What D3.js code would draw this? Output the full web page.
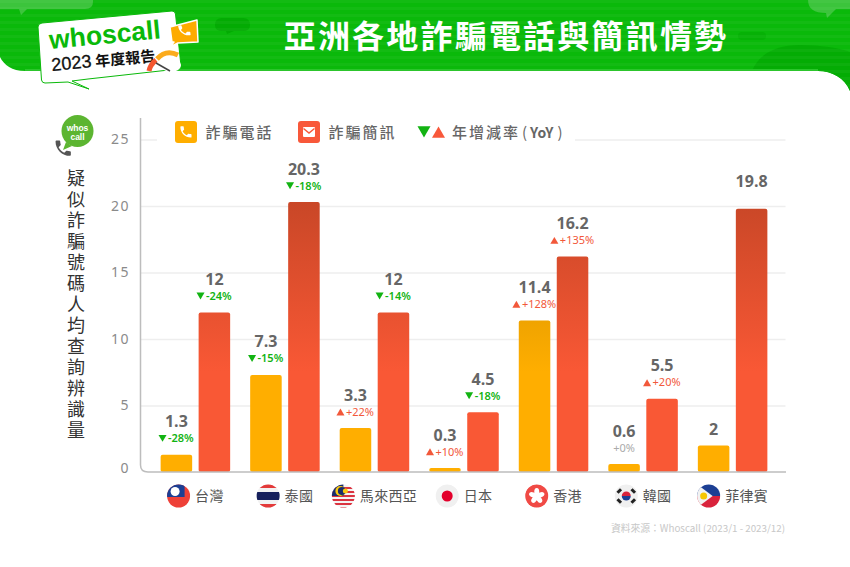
<!DOCTYPE html>
<html>
<head>
<meta charset="utf-8">
<script src="https://cdn.jsdelivr.net/npm/d3@7"></script>
<style>
html, body { margin: 0; padding: 0; background: #fff; }
svg { display: block; }
text { font-family: "Noto Sans", "Noto Sans CJK TC", sans-serif; }
.cjk { font-family: "Noto Sans CJK TC", "Noto Sans", sans-serif; }
</style>
</head>
<body>
<svg id="chart" width="850" height="567"></svg>
<script>
// chart data
var categories = ["台灣", "泰國", "馬來西亞", "日本", "香港", "韓國", "菲律賓"];
var flagKeys = ["tw", "th", "my", "jp", "hk", "kr", "ph"];
var seriesKeys = ["phone", "sms"];
var phoneValues = [1.3, 7.3, 3.3, 0.3, 11.4, 0.6, 2];
var smsValues = [12, 20.3, 12, 4.5, 16.2, 5.5, 19.8];
var phoneYoY = [-28, -15, 22, 10, 128, 0, null];
var smsYoY = [-24, -18, -14, -18, 135, 20, null];
var yTicks = [0, 5, 10, 15, 20, 25];
var axisTitle = "疑似詐騙號碼人均查詢辨識量";

var phonePath = "M6.62 10.79c1.44 2.83 3.76 5.14 6.59 6.59l2.2-2.2c.27-.27.67-.36 1.02-.24 1.12.37 2.33.57 3.57.57.55 0 1 .45 1 1V20c0 .55-.45 1-1 1-9.39 0-17-7.61-17-17 0-.55.45-1 1-1h3.5c.55 0 1 .45 1 1 0 1.25.2 2.45.57 3.57.11.35.03.74-.25 1.02l-2.2 2.2z";

var svg = d3.select("#chart");
var defs = svg.append("defs");

var x0 = d3.scaleBand()
	.domain(categories)
	.range([150.6, 777.4])
	.paddingInner(0.2235)
	.paddingOuter(0.112);

var x1 = d3.scaleBand()
	.domain(seriesKeys)
	.range([0, x0.bandwidth()])
	.paddingInner(0.17);

var y = d3.scaleLinear()
	.domain([0, 25])
	.range([472, 139.5]);

var green = "#0ab90a", orange = "#ffae00", red = "#f95835";

// header
var stripes = defs.append("pattern")
	.attr("id", "stripes")
	.attr("patternUnits", "userSpaceOnUse")
	.attr("width", 10)
	.attr("height", 7);
stripes.append("rect").attr("width", 10).attr("height", 3).attr("fill", "#fff").attr("opacity", 0.035);

var headerShape = "M0,0H850V91C845,78 832,71 818,71H25C12,71 4,65 0,57Z";
var header = svg.append("g");
header.append("path").attr("d", headerShape).attr("fill", green);
defs.append("clipPath").attr("id", "headerClip").append("path").attr("d", headerShape);
var headerInner = header.append("g").attr("clip-path", "url(#headerClip)");
headerInner.append("path").attr("d", "M752,71C758,55 775,45 800,45C820,45 840,48 850,52V95H752Z").attr("fill", "#04ac04");
headerInner.append("path").attr("d", "M0,-2H93V2Q93,9 85,9H27L21,15L19,9H0Z").attr("fill", "#3cc43c");
headerInner.append("path").attr("d", "M808,-2H850V9H836L827,18L826,13Q808,13 808,0Z").attr("fill", "#3cc43c");
headerInner.append("path").attr("d", "M222,18H243Q250,18 250,25Q250,31 243,31H234L227,34L226,31H222Q215,31 215,25Q215,18 222,18Z").attr("fill", "#03ab03");
headerInner.append("rect").attr("x", 738).attr("y", 32).attr("width", 28).attr("height", 8).attr("rx", 4).attr("fill", "#06b106");
headerInner.append("rect").attr("width", 850).attr("height", 100).attr("fill", "url(#stripes)");
header.append("rect").attr("x", 25).attr("y", 69).attr("width", 793).attr("height", 2).attr("fill", "#2cc52c");

svg.append("text")
	.attr("class", "cjk")
	.attr("x", 506)
	.attr("y", 48)
	.attr("text-anchor", "middle")
	.attr("font-size", 32)
	.attr("font-weight", 700)
	.attr("letter-spacing", 2.2)
	.attr("fill", "#fff")
	.text("亞洲各地詐騙電話與簡訊情勢");

// report badge
var badge = svg.append("g");
badge.append("path")
	.attr("d", "M42,23L172,11Q175,11 175.500,14L181,66Q181,69 178,69L88,79L72,81L89,89L68,82L45,83Q42,83 41.500,80L38,27Q38,23.500 42,23Z")
	.attr("fill", "#fff")
	.attr("stroke", green)
	.attr("stroke-width", 1);
badge.append("text")
	.attr("transform", "translate(50,49) rotate(-5.5)")
	.attr("font-size", 26.5)
	.attr("font-weight", 700)
	.attr("fill", green)
	.style("font-family", "'Liberation Sans', sans-serif")
	.text("whoscall");
var badgeText = badge.append("text")
	.attr("transform", "translate(52,71) rotate(-5.5)")
	.attr("fill", "#111");
badgeText.append("tspan")
	.attr("font-size", 18)
	.attr("font-weight", 400)
	.style("font-family", "'Liberation Sans', sans-serif")
	.style("stroke", "#111")
	.style("stroke-width", 0.3)
	.text("2023");
badgeText.append("tspan")
	.attr("class", "cjk")
	.attr("dx", 4)
	.attr("font-size", 15)
	.attr("font-weight", 700)
	.style("font-family", "'Noto Sans CJK TC', sans-serif")
	.text("年度報告");
badge.append("path")
	.attr("d", "M170,27L197,20L198,42L178,43L170,47L174,42L172,42Z")
	.attr("fill", "#fdab00")
	.attr("stroke", "#fff")
	.attr("stroke-width", 1.5)
	.attr("stroke-linejoin", "round");
badge.append("path")
	.attr("d", phonePath)
	.attr("transform", "translate(176,24) scale(0.62) rotate(-8)")
	.attr("fill", "#fff");
badge.append("path").attr("d", "M157,59Q166,49 178,55").attr("fill", "none").attr("stroke", "#fbab1c").attr("stroke-width", 5);
badge.append("path").attr("d", "M149,71Q150,65 156,60").attr("fill", "none").attr("stroke", "#f4562f").attr("stroke-width", 5);
badge.append("ellipse").attr("cx", 171).attr("cy", 65).attr("rx", 10).attr("ry", 7).attr("fill", "#fff");
badge.append("line").attr("x1", 156).attr("y1", 63).attr("x2", 170).attr("y2", 71).attr("stroke", "#444").attr("stroke-width", 1.5);

// darker tone towards the top of the plot
var topY = y(20.3), fadeY = y(7.5);
defs.append("linearGradient")
	.attr("id", "gradSms")
	.attr("gradientUnits", "userSpaceOnUse")
	.attr("x1", 0).attr("x2", 0).attr("y1", topY).attr("y2", fadeY)
	.selectAll("stop")
	.data([{o: 0, c: "#c94727"}, {o: 1, c: red}])
	.enter().append("stop")
	.attr("offset", function(d) { return d.o; })
	.attr("stop-color", function(d) { return d.c; });
defs.append("linearGradient")
	.attr("id", "gradPhone")
	.attr("gradientUnits", "userSpaceOnUse")
	.attr("x1", 0).attr("x2", 0).attr("y1", topY).attr("y2", fadeY)
	.selectAll("stop")
	.data([{o: 0, c: "#cc8b00"}, {o: 1, c: orange}])
	.enter().append("stop")
	.attr("offset", function(d) { return d.o; })
	.attr("stop-color", function(d) { return d.c; });

// grid and y axis
var plot = svg.append("g");
var gridAxis = plot.append("g")
	.attr("transform", "translate(140.5,0)")
	.call(d3.axisRight(y).tickValues(yTicks.slice(1)).tickSize(645).tickFormat(""));
gridAxis.select(".domain").remove();
gridAxis.selectAll("line").attr("stroke", "#eeeeee").attr("stroke-width", 1.3);

var tickAxis = plot.append("g")
	.attr("transform", "translate(130,0)")
	.call(d3.axisLeft(y).tickValues(yTicks).tickSize(0).tickPadding(0));
tickAxis.select(".domain").remove();
tickAxis.selectAll("text")
	.attr("font-size", 14)
	.attr("letter-spacing", 1.5)
	.attr("fill", "#8a8a8a")
	.attr("dy", function(d) { return d === 0 ? "-0.0em" : "0.32em"; });

// white strip behind the legend
plot.append("rect").attr("x", 157).attr("y", 118).attr("width", 418).attr("height", 28).attr("fill", "#fff");

// bars
var groups = plot.selectAll(".group")
	.data(categories)
	.enter().append("g")
	.attr("class", "group")
	.attr("transform", function(d) { return "translate(" + x0(d) + ",0)"; });

var bars = groups.selectAll("g")
	.data(function(d, i) {
		return [
			{key: "phone", value: phoneValues[i], yoy: phoneYoY[i]},
			{key: "sms", value: smsValues[i], yoy: smsYoY[i]}
		];
	})
	.enter().append("g");

bars.append("rect")
	.attr("x", function(d) { return x1(d.key); })
	.attr("y", function(d) { return y(d.value); })
	.attr("width", x1.bandwidth())
	.attr("height", function(d) { return y(0) - y(d.value); })
	.attr("rx", 2)
	.attr("fill", function(d) { return d.key === "phone" ? "url(#gradPhone)" : "url(#gradSms)"; });

bars.append("text")
	.attr("x", function(d) { return x1(d.key) + x1.bandwidth() / 2; })
	.attr("y", function(d) { return y(d.value) - (d.yoy === null ? (d.key === "phone" ? 10 : 22) : 27.5); })
	.attr("text-anchor", "middle")
	.attr("font-size", 16)
	.attr("font-weight", 700)
	.attr("fill", "#666")
	.style("font-family", "'Open Sans', sans-serif")
	.text(function(d) { return d.value; });

// yoy label with its little triangle, centred over the bar
bars.filter(function(d) { return d.yoy !== null; }).each(function(d) {
	var g = d3.select(this);
	var cx = x1(d.key) + x1.bandwidth() / 2;
	var base = y(d.value) - 12.5;
	var col = d.yoy > 0 ? "#f2583a" : d.yoy < 0 ? "#12b312" : "#aaaaaa";
	var label = (d.yoy >= 0 ? "+" : "") + d.yoy + "%";
	var t = g.append("text")
		.attr("y", base)
		.attr("font-size", 11)
		.attr("fill", col)
		.attr("font-weight", d.yoy < 0 ? 600 : 400)
		.text(label);
	var tw = t.node().getComputedTextLength();
	var hasMark = d.yoy !== 0;
	var total = tw + (hasMark ? 9 : 0);
	t.attr("x", cx - total / 2 + (hasMark ? 9 : 0));
	if (hasMark) {
		g.append("path")
			.attr("d", d3.symbol(d3.symbolTriangle, 28)())
			.attr("transform", "translate(" + (cx - total / 2 + 3.5) + "," + (d.yoy < 0 ? base - 5 : base - 2.5) + ")" + (d.yoy < 0 ? " rotate(180)" : ""))
			.attr("fill", col);
	}
});

// axis lines
plot.append("path")
	.attr("d", "M140.5,118V465Q140.500,472 148,472H786")
	.attr("fill", "none")
	.attr("stroke", "#bdbdbd")
	.attr("stroke-width", 1.5);

// legend
var legend = svg.append("g");
function legendItem(x, col, text, drawIcon) {
	legend.append("rect").attr("x", x).attr("y", 121).attr("width", 22).attr("height", 22).attr("rx", 3).attr("fill", col);
	drawIcon(x);
	legend.append("text")
		.attr("class", "cjk")
		.attr("x", x + 30.500)
		.attr("y", 137.500)
		.attr("font-size", 15)
		.attr("font-weight", 500)
		.attr("letter-spacing", 2)
		.attr("fill", "#666")
		.text(text);
}
legendItem(175, orange, "詐騙電話", function(x) {
	legend.append("path")
		.attr("d", phonePath)
		.attr("transform", "translate(" + (x + 3.500) + ",124.500) scale(0.62)")
		.attr("fill", "#fff");
});
legendItem(298, "#f8583a", "詐騙簡訊", function(x) {
	legend.append("rect").attr("x", x + 5).attr("y", 127).attr("width", 12).attr("height", 10).attr("rx", 1).attr("fill", "#fff");
	legend.append("path").attr("d", "M" + (x + 5.500) + ",128.500L" + (x + 11) + ",133L" + (x + 16.500) + ",128.500").attr("fill", "none").attr("stroke", "#f8583a").attr("stroke-width", 1.5);
});
legend.append("path")
	.attr("d", d3.symbol(d3.symbolTriangle, 73)())
	.attr("transform", "translate(424,130) rotate(180)")
	.attr("fill", "#12b312");
legend.append("path")
	.attr("d", d3.symbol(d3.symbolTriangle, 73)())
	.attr("transform", "translate(438.500,134)")
	.attr("fill", "#f8583a");
var yoyLegend = legend.append("text")
	.attr("class", "cjk")
	.attr("x", 452)
	.attr("y", 137.500)
	.attr("font-size", 15)
	.attr("font-weight", 500)
	.attr("fill", "#666");
yoyLegend.append("tspan").attr("letter-spacing", 2).text("年增減率");
yoyLegend.append("tspan").attr("dx", 2).attr("font-weight", 400).text("(");
yoyLegend.append("tspan").attr("dx", 3).attr("font-size", 14).attr("font-weight", 700).text("YoY");
yoyLegend.append("tspan").attr("dx", 4).attr("font-weight", 400).text(")");

// y axis title with logo
var logo = svg.append("g");
logo.append("circle").attr("cx", 77.500).attr("cy", 131).attr("r", 16).attr("fill", "#5cb531");
logo.append("path").attr("d", "M66,142L63,150L72,146Z").attr("fill", "#5cb531");
var logoText = logo.append("text")
	.attr("text-anchor", "middle")
	.attr("font-size", 8.5)
	.attr("font-weight", 700)
	.attr("fill", "#fff")
	.style("font-family", "'Liberation Sans', sans-serif");
logoText.selectAll("tspan")
	.data(["whos", "call"])
	.enter().append("tspan")
	.attr("x", 77.500)
	.attr("y", function(d, i) { return 131 + i * 8.5; })
	.text(function(d) { return d; });
logo.append("path")
	.attr("d", phonePath)
	.attr("transform", "translate(53,138) scale(0.85)")
	.attr("fill", "#555");

// one vertical run of text, spaced to the same pitch as the reference
svg.append("text")
	.attr("class", "cjk")
	.attr("x", 76)
	.attr("y", 169)
	.attr("font-size", 18)
	.attr("letter-spacing", 3)
	.attr("fill", "#333")
	.style("writing-mode", "vertical-rl")
	.text(axisTitle);

// flags
var flagDrawers = {
	tw: function(g) {
		g.append("rect").attr("x", -12).attr("y", -12).attr("width", 24).attr("height", 24).attr("fill", "#ee4138");
		g.append("rect").attr("x", -12).attr("y", -12).attr("width", 18).attr("height", 13).attr("fill", "#1c3f94");
		g.append("circle").attr("cx", -3.500).attr("cy", -4.500).attr("r", 4.500).attr("fill", "#fff");
	},
	th: function(g) {
		g.append("rect").attr("x", -12).attr("y", -12).attr("width", 24).attr("height", 24).attr("fill", "#f2f2f2");
		g.append("rect").attr("x", -12).attr("y", -12).attr("width", 24).attr("height", 4).attr("fill", "#e33a3a");
		g.append("rect").attr("x", -12).attr("y", 8).attr("width", 24).attr("height", 4).attr("fill", "#e33a3a");
		g.append("rect").attr("x", -12).attr("y", -4).attr("width", 24).attr("height", 8).attr("fill", "#16205c");
	},
	my: function(g) {
		g.append("rect").attr("x", -12).attr("y", -12).attr("width", 24).attr("height", 24).attr("fill", "#f4f4f4");
		[-9, -5, -1, 3, 7, 11].forEach(function(v) {
			g.append("rect").attr("x", -12).attr("y", v).attr("width", 24).attr("height", 2).attr("fill", "#db3340");
		});
		g.append("rect").attr("x", -12).attr("y", -12).attr("width", 12).attr("height", 12).attr("fill", "#1a2d6b");
		g.append("circle").attr("cx", -3).attr("cy", -5).attr("r", 5).attr("fill", "#f9c80e");
		g.append("circle").attr("cx", -1.500).attr("cy", -5).attr("r", 4).attr("fill", "#1a2d6b");
		g.append("circle").attr("cx", 2).attr("cy", -5).attr("r", 2.500).attr("fill", "#f9c80e");
	},
	jp: function(g) {
		g.append("circle").attr("r", 12).attr("fill", "#f0f0f0");
		g.append("circle").attr("r", 5.500).attr("fill", "#e3002b");
	},
	hk: function(g) {
		g.append("circle").attr("r", 12).attr("fill", "#f04a45");
		d3.range(5).forEach(function(i) {
			g.append("ellipse")
				.attr("cy", -4)
				.attr("rx", 2.500)
				.attr("ry", 4)
				.attr("transform", "rotate(" + i * 72 + ")")
				.attr("fill", "#fff");
		});
	},
	kr: function(g) {
		g.append("circle").attr("r", 12).attr("fill", "#f0f0f0");
		g.append("path").attr("d", "M-4.500,0A4.500,4.500 0 0 1 4.500,0Z").attr("fill", "#d9233c");
		g.append("path").attr("d", "M-4.500,0A4.500,4.500 0 0 0 4.500,0Z").attr("fill", "#1c3f94");
		[[-7, -5, 45], [7, -5, -45], [-7, 5, -45], [7, 5, 45]].forEach(function(b) {
			g.append("rect")
				.attr("x", -1.500).attr("y", -2.500).attr("width", 3).attr("height", 5)
				.attr("transform", "translate(" + b[0] + "," + b[1] + ") rotate(" + b[2] + ")")
				.attr("fill", "#222");
		});
	},
	ph: function(g) {
		g.append("rect").attr("x", -12).attr("y", -12).attr("width", 24).attr("height", 12).attr("fill", "#1c3f94");
		g.append("rect").attr("x", -12).attr("y", 0).attr("width", 24).attr("height", 12).attr("fill", "#d9233c");
		g.append("path").attr("d", "M-12,-12L4,0L-12,12Z").attr("fill", "#f2f2f2");
		g.append("circle").attr("cx", -5).attr("cy", 0).attr("r", 3.500).attr("fill", "#f7c600");
	}
};

var flagGroups = svg.append("g")
	.selectAll("g")
	.data(categories)
	.enter().append("g");

flagGroups.each(function(d, i) {
	var g = d3.select(this);
	var cx = x0(d) + x0.bandwidth() / 2;
	var t = g.append("text")
		.attr("class", "cjk")
		.attr("y", 501)
		.attr("font-size", 14)
		.attr("letter-spacing", 0.300)
		.attr("fill", "#555")
		.text(d);
	var w = t.node().getComputedTextLength();
	var left = cx - (23 + 5 + w) / 2;
	t.attr("x", left + 28);
	var key = flagKeys[i];
	defs.append("clipPath").attr("id", "flag-" + key).append("circle").attr("r", 11.500);
	var f = g.append("g")
		.attr("transform", "translate(" + (left + 11.500) + ",496)")
		.attr("clip-path", "url(#flag-" + key + ")");
	flagDrawers[key](f);
});

// source
svg.append("text")
	.attr("class", "cjk")
	.attr("x", 785)
	.attr("y", 532)
	.attr("text-anchor", "end")
	.attr("font-size", 9.8)
	.attr("fill", "#c8c8c8")
	.text("資料來源：Whoscall (2023/1 - 2023/12)");
</script>
</body>
</html>
